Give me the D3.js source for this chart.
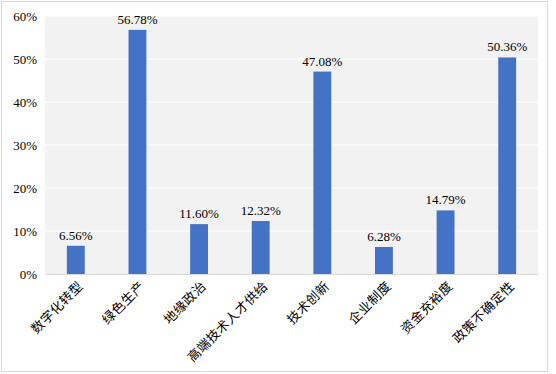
<!DOCTYPE html>
<html>
<head>
<meta charset="utf-8">
<script src="https://cdn.jsdelivr.net/npm/d3@7"></script>
<style>
  body { margin: 0; background: #fff; }
  text { font-family: "Liberation Serif", "Noto Sans CJK SC", serif; }
</style>
</head>
<body>
<svg width="556" height="374"></svg>
<script>
const categories = ["数字化转型", "绿色生产", "地缘政治", "高端技术人才供给", "技术创新", "企业制度", "资金充裕度", "政策不确定性"];
const values = [6.56, 56.78, 11.60, 12.32, 47.08, 6.28, 14.79, 50.36];
const yTicks = [0, 10, 20, 30, 40, 50, 60];

var svg = d3.select("svg");
var margin = ({top: 16, right: 18, bottom: 100, left: 45});
var width = 556 - margin.left - margin.right;
var height = 374 - margin.top - margin.bottom;

// outer frame
svg.append("rect")
   .attr("x", 1.5).attr("y", 1.5)
   .attr("width", 546).attr("height", 370)
   .attr("fill", "#fff")
   .attr("stroke", "#d9d9d9");

var g = svg.append("g").attr("transform", `translate(${margin.left}, ${margin.top})`);

var x = d3.scaleBand().domain(categories).range([0, width]).paddingInner(0.71).paddingOuter(0.355);
var y = d3.scaleLinear().domain([0, 60]).range([height, 0]);

g.append("rect")
 .attr("width", width).attr("height", height)
 .attr("fill", "#f2f2f2");

// gridlines
g.selectAll(".grid")
 .data(yTicks.slice(1))
 .enter().append("line")
 .attr("x1", 0).attr("x2", width)
 .attr("y1", d => y(d)).attr("y2", d => y(d))
 .attr("stroke", "#fff").attr("stroke-width", 1);

// y axis labels
g.append("g")
 .call(d3.axisLeft(y).tickValues(yTicks).tickSize(0).tickPadding(8).tickFormat(d => d + "%"))
 .call(a => a.select(".domain").remove())
 .selectAll("text")
 .attr("font-size", 13)
 .attr("fill", "#000")
 .style("font-family", "'Liberation Serif', serif");

// bars
g.selectAll(".bar")
 .data(values)
 .enter().append("rect")
 .attr("x", (d, i) => x(categories[i]))
 .attr("y", d => y(d))
 .attr("width", x.bandwidth())
 .attr("height", d => height - y(d))
 .attr("fill", "#4472c4");

// value labels
g.selectAll(".lbl")
 .data(values)
 .enter().append("text")
 .attr("x", (d, i) => x(categories[i]) + x.bandwidth() / 2)
 .attr("y", d => y(d) - 6)
 .attr("text-anchor", "middle")
 .attr("font-size", 13)
 .attr("fill", "#000")
 .text(d => d.toFixed(2) + "%");

// x axis
var xa = g.append("g")
 .attr("transform", `translate(0, ${height})`)
 .call(d3.axisBottom(x).tickSize(0).tickSizeOuter(0));
xa.select(".domain").attr("stroke", "#d9d9d9");
xa.selectAll("text")
 .attr("font-size", 13)
 .attr("fill", "#000")
 .attr("text-anchor", "end")
 .attr("y", 0)
 .attr("dy", 0)
 .attr("letter-spacing", 0.4)
 .attr("transform", "translate(8, 13) rotate(-45)")
 .style("font-family", "'Noto Sans CJK SC', sans-serif");
</script>
</body>
</html>
